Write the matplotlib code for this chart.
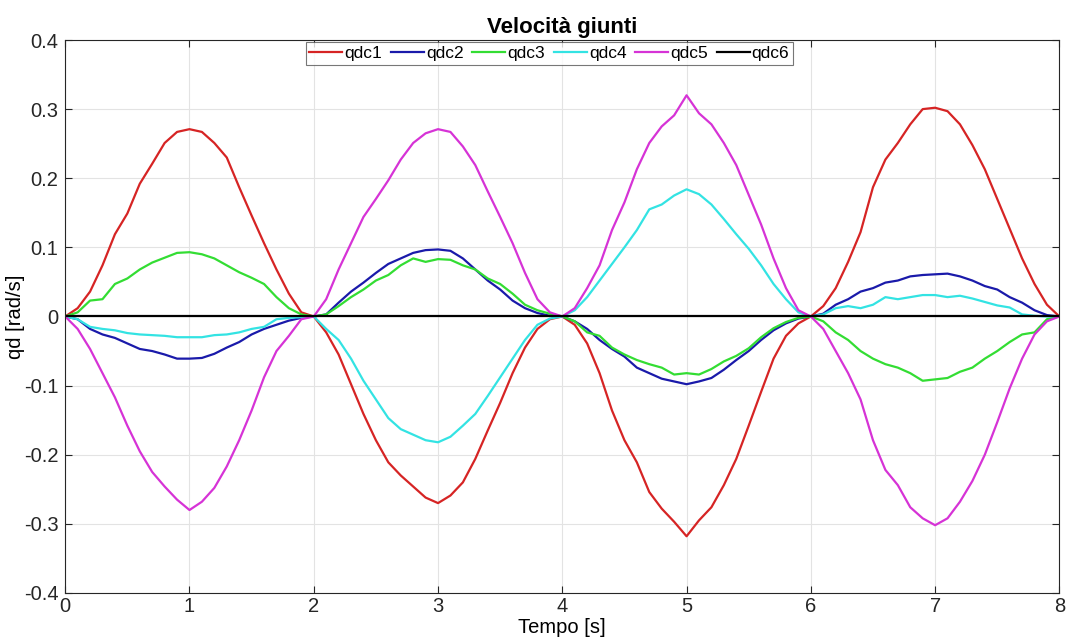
import numpy as np
import matplotlib
matplotlib.use('Agg')
import matplotlib.pyplot as plt

plt.rcParams['font.family'] = ['Liberation Sans', 'DejaVu Sans']
plt.rcParams['axes.unicode_minus'] = False

# campioni ogni 0.1 s
t = np.linspace(0, 8, 81)

qdc1 = [0, 0.012, 0.036, 0.074, 0.119, 0.149, 0.192, 0.221, 0.251, 0.267,
        0.271, 0.267, 0.251, 0.230, 0.187, 0.146, 0.106, 0.068, 0.033, 0.006,
        0, -0.023, -0.055, -0.098, -0.141, -0.179, -0.211, -0.230, -0.246, -0.262,
        -0.270, -0.259, -0.240, -0.206, -0.165, -0.125, -0.082, -0.045, -0.018, -0.004,
        0, -0.012, -0.039, -0.082, -0.136, -0.179, -0.211, -0.254, -0.278, -0.297,
        -0.318, -0.295, -0.276, -0.244, -0.206, -0.158, -0.109, -0.061, -0.028, -0.010,
        0, 0.015, 0.041, 0.079, 0.122, 0.187, 0.227, 0.251, 0.278, 0.300,
        0.302, 0.297, 0.278, 0.248, 0.213, 0.170, 0.127, 0.084, 0.047, 0.017,
        0]
qdc2 = [0, -0.004, -0.018, -0.026, -0.031, -0.039, -0.047, -0.050, -0.055, -0.061,
        -0.061, -0.060, -0.054, -0.045, -0.037, -0.026, -0.018, -0.012, -0.006, -0.002,
        0, 0.003, 0.020, 0.036, 0.049, 0.063, 0.076, 0.084, 0.092, 0.096,
        0.097, 0.095, 0.084, 0.068, 0.052, 0.039, 0.023, 0.012, 0.005, 0.001,
        0, -0.007, -0.018, -0.034, -0.047, -0.058, -0.074, -0.082, -0.090, -0.094,
        -0.098, -0.094, -0.089, -0.077, -0.063, -0.050, -0.034, -0.020, -0.010, -0.003,
        0, 0.004, 0.017, 0.025, 0.036, 0.041, 0.049, 0.052, 0.058, 0.060,
        0.061, 0.062, 0.058, 0.052, 0.044, 0.039, 0.028, 0.020, 0.009, 0.002,
        0]
qdc3 = [0, 0.006, 0.023, 0.025, 0.047, 0.055, 0.068, 0.078, 0.085, 0.092,
        0.093, 0.090, 0.084, 0.074, 0.064, 0.056, 0.047, 0.028, 0.012, 0.003,
        0, 0.003, 0.015, 0.028, 0.039, 0.052, 0.060, 0.074, 0.084, 0.079,
        0.083, 0.082, 0.074, 0.068, 0.055, 0.047, 0.033, 0.017, 0.009, 0.004,
        0, -0.007, -0.023, -0.028, -0.045, -0.055, -0.063, -0.069, -0.074, -0.084,
        -0.082, -0.084, -0.076, -0.065, -0.057, -0.046, -0.030, -0.017, -0.008, -0.002,
        0, -0.007, -0.023, -0.034, -0.050, -0.061, -0.069, -0.074, -0.082, -0.093,
        -0.091, -0.089, -0.080, -0.074, -0.061, -0.050, -0.037, -0.026, -0.023, -0.004,
        0]
qdc4 = [0, -0.004, -0.015, -0.018, -0.020, -0.024, -0.026, -0.027, -0.028, -0.030,
        -0.030, -0.030, -0.027, -0.026, -0.023, -0.018, -0.015, -0.004, -0.002, -0.001,
        0, -0.018, -0.034, -0.061, -0.093, -0.120, -0.147, -0.163, -0.171, -0.179,
        -0.182, -0.174, -0.158, -0.141, -0.115, -0.088, -0.061, -0.034, -0.012, -0.003,
        0, 0.009, 0.028, 0.052, 0.076, 0.100, 0.125, 0.155, 0.162, 0.175,
        0.184, 0.177, 0.162, 0.141, 0.119, 0.098, 0.074, 0.047, 0.025, 0.006,
        0, 0.003, 0.012, 0.015, 0.012, 0.017, 0.028, 0.025, 0.028, 0.031,
        0.031, 0.028, 0.030, 0.026, 0.021, 0.016, 0.013, 0.003, 0.001, 0.0,
        0]
qdc5 = [0, -0.018, -0.047, -0.082, -0.117, -0.158, -0.195, -0.225, -0.246, -0.265,
        -0.280, -0.268, -0.248, -0.217, -0.179, -0.136, -0.088, -0.050, -0.028, -0.004,
        0, 0.025, 0.068, 0.106, 0.144, 0.170, 0.197, 0.227, 0.251, 0.265,
        0.271, 0.267, 0.246, 0.219, 0.181, 0.144, 0.106, 0.063, 0.025, 0.006,
        0, 0.012, 0.041, 0.074, 0.125, 0.165, 0.213, 0.251, 0.275, 0.291,
        0.320, 0.294, 0.278, 0.251, 0.219, 0.176, 0.133, 0.084, 0.041, 0.009,
        0, -0.018, -0.050, -0.082, -0.120, -0.179, -0.222, -0.244, -0.276, -0.292,
        -0.302, -0.292, -0.268, -0.238, -0.200, -0.153, -0.104, -0.061, -0.026, -0.007,
        0]
qdc6 = [0.0] * 81

names = ['qdc1', 'qdc2', 'qdc3', 'qdc4', 'qdc5', 'qdc6']
colors = ['#d62424', '#1a1aaa', '#33dd33', '#33e3e3', '#d633d6', '#000000']
yticks = [-0.4, -0.3, -0.2, -0.1, 0, 0.1, 0.2, 0.3, 0.4]
ytick_labels = ['-0.4', '-0.3', '-0.2', '-0.1', '0', '0.1', '0.2', '0.3', '0.4']

fig = plt.figure(figsize=(10.69, 6.4), dpi=100)
ax = fig.add_axes([0.061, 0.0735, 0.930, 0.864])

for y, name, col in zip([qdc1, qdc2, qdc3, qdc4, qdc5, qdc6], names, colors):
    ax.plot(t, y, color=col, lw=1.6, label=name)

ax.set_xlim(0, 8)
ax.set_ylim(-0.4, 0.4)
ax.set_xticks(range(0, 9))
ax.set_yticks(yticks)
ax.set_yticklabels(ytick_labels)
ax.grid(True, color='#e3e3e3', lw=0.8)
ax.set_axisbelow(True)
ax.tick_params(direction='in', length=5, width=0.8, top=True, right=True,
               labelsize=14.5, colors='#262626')
ax.tick_params(axis='x', pad=3)
ax.tick_params(axis='y', pad=5)
for s in ax.spines.values():
    s.set_color('#262626')
    s.set_linewidth(0.8)

ax.set_title('Velocità giunti', fontsize=16, fontweight='bold', pad=5)
ax.set_xlabel('Tempo [s]', fontsize=14.5, labelpad=1)
ax.set_ylabel('qd [rad/s]', fontsize=14.5, labelpad=-1)

leg = ax.legend(loc='upper center', bbox_to_anchor=(0.487, 1.0), ncol=6,
                fontsize=12.5, frameon=True, fancybox=False, borderaxespad=0.1,
                handlelength=1.9, handletextpad=0.12, columnspacing=0.5,
                borderpad=0.22)
leg.get_frame().set_edgecolor('#555555')
leg.get_frame().set_linewidth(0.8)

fig.savefig('out.png', dpi=100)
